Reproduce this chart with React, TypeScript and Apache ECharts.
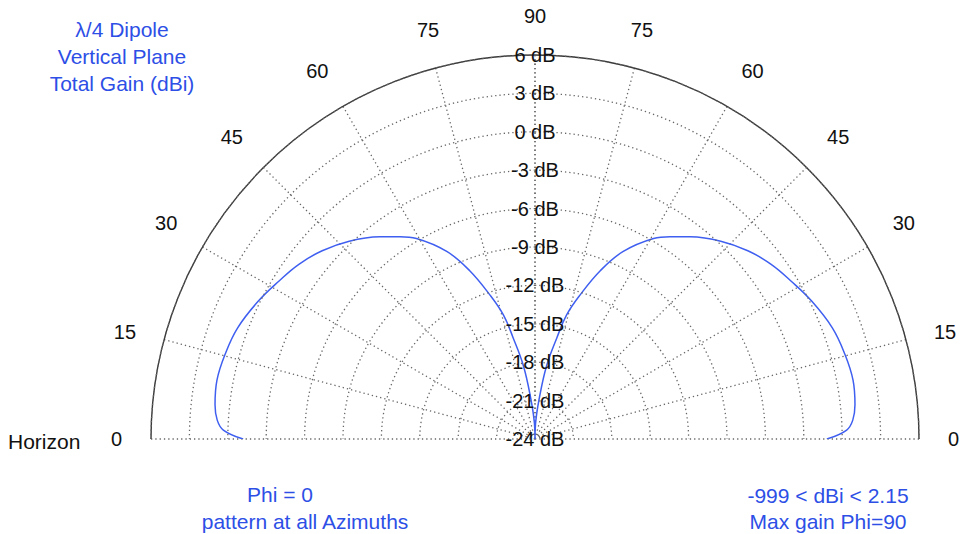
import { useEffect, useRef } from 'react';
import * as echarts from 'echarts';

// Elevation angle above the horizon (degrees) and total gain (dBi)
const elevationDeg = [0, 1.65, 3.4, 6.1, 10.5, 15.3, 20.5, 26.5, 31.7, 36.5, 41.5, 46.8, 52.5, 56.3, 59.4, 64.8, 68.8, 72.6, 75.7, 77.8, 81.0, 84.0, 88.0, 90];
const gainDb = [-1.2, 0.36, 0.87, 1.14, 1.27, 1.1, 0.8, 0.15, -0.5, -1.05, -1.8, -2.8, -4.09, -5.0, -5.8, -7.8, -9.9, -12.2, -14.0, -15.9, -18.2, -20.8, -22.8, -24];

const ringMin = -24;
const ringMax = 6;
const ringStep = 3;
const angleStep = 15;

const titleLines = ['λ/4 Dipole', 'Vertical Plane', 'Total Gain (dBi)'];
const leftNote = ['Phi = 0', 'pattern at all Azimuths'];
const rightNote = ['-999 < dBi < 2.15', 'Max gain Phi=90'];
const horizonLabel = 'Horizon';

const FONT = '"Liberation Sans", Arial, Helvetica, sans-serif';
const BLUE_TEXT = '#2d4fe6';
const BLUE_LINE = '#3f5ff0';
const GRID = '#666';

export default function App() {
  const ref = useRef<HTMLDivElement>(null);
  useEffect(() => {
    document.body.style.margin = '0';
    const chart = echarts.init(ref.current!, null, { renderer: 'svg' });
    const center = [535, 439];
    const radius = 384;
    const seriesData = elevationDeg.map((e, i) => [gainDb[i], 90 - e]);

    const angleCommon = (idx: number, startAngle: number, endAngle: number, clockwise: boolean, hideTop: boolean) => ({
      polarIndex: idx,
      type: 'value',
      min: 0,
      max: 90,
      interval: angleStep,
      startAngle,
      endAngle,
      clockwise,
      axisLine: { show: true, lineStyle: { color: '#3a3a3a', width: 1.4 } },
      axisTick: { show: false },
      axisLabel: {
        margin: 29,
        color: '#111',
        fontSize: 20,
        fontFamily: FONT,
        formatter: (v: number) => (hideTop && v === 0 ? '' : String(90 - v)),
      },
      splitLine: { show: true, lineStyle: { color: GRID, width: 1.3, type: [1.3, 3] } },
    });

    const radiusCommon = (idx: number, showLabel: boolean) => ({
      polarIndex: idx,
      type: 'value',
      min: ringMin,
      max: ringMax,
      interval: ringStep,
      axisLine: { show: false },
      axisTick: { show: false },
      axisLabel: {
        show: showLabel,
        margin: 0,
        align: 'center',
        verticalAlign: 'middle',
        color: '#111',
        fontSize: 20,
        fontFamily: FONT,
        formatter: '{value} dB',
      },
      splitLine: { show: true, lineStyle: { color: GRID, width: 1.3, type: [1.3, 3] } },
      z: 10,
    });

    const textLines = (lines: string[], x: number, y0: number, dy: number, color: string) =>
      lines.map((t, i) => ({
        type: 'text',
        x,
        y: y0 + i * dy,
        style: { text: t, align: 'center', verticalAlign: 'middle', fill: color, font: `21px ${FONT}` },
      }));

    const lobe = (idx: number) => ({
      type: 'line',
      coordinateSystem: 'polar',
      polarIndex: idx,
      data: seriesData,
      showSymbol: false,
      smooth: 0.4,
      lineStyle: { color: BLUE_LINE, width: 1.5 },
      z: 5,
    });

    chart.setOption({
      animation: false,
      backgroundColor: '#fff',
      polar: [
        { center, radius },
        { center, radius },
      ],
      angleAxis: [angleCommon(0, 90, 180, false, false), angleCommon(1, 90, 0, true, true)],
      radiusAxis: [radiusCommon(0, true), radiusCommon(1, false)],
      series: [lobe(0), lobe(1)],
      graphic: [
        ...textLines(titleLines, 122, 29, 27, BLUE_TEXT),
        ...textLines([leftNote[0]], 280, 494, 27, BLUE_TEXT),
        ...textLines([leftNote[1]], 305, 521, 27, BLUE_TEXT),
        ...textLines(rightNote, 828, 495, 26, BLUE_TEXT),
        {
          type: 'text',
          x: 8,
          y: 441,
          style: { text: horizonLabel, align: 'left', verticalAlign: 'middle', fill: '#111', font: `21px ${FONT}` },
        },
      ],
    });
    return () => chart.dispose();
  }, []);
  return <div ref={ref} style={{ width: 967, height: 534 }} />;
}
